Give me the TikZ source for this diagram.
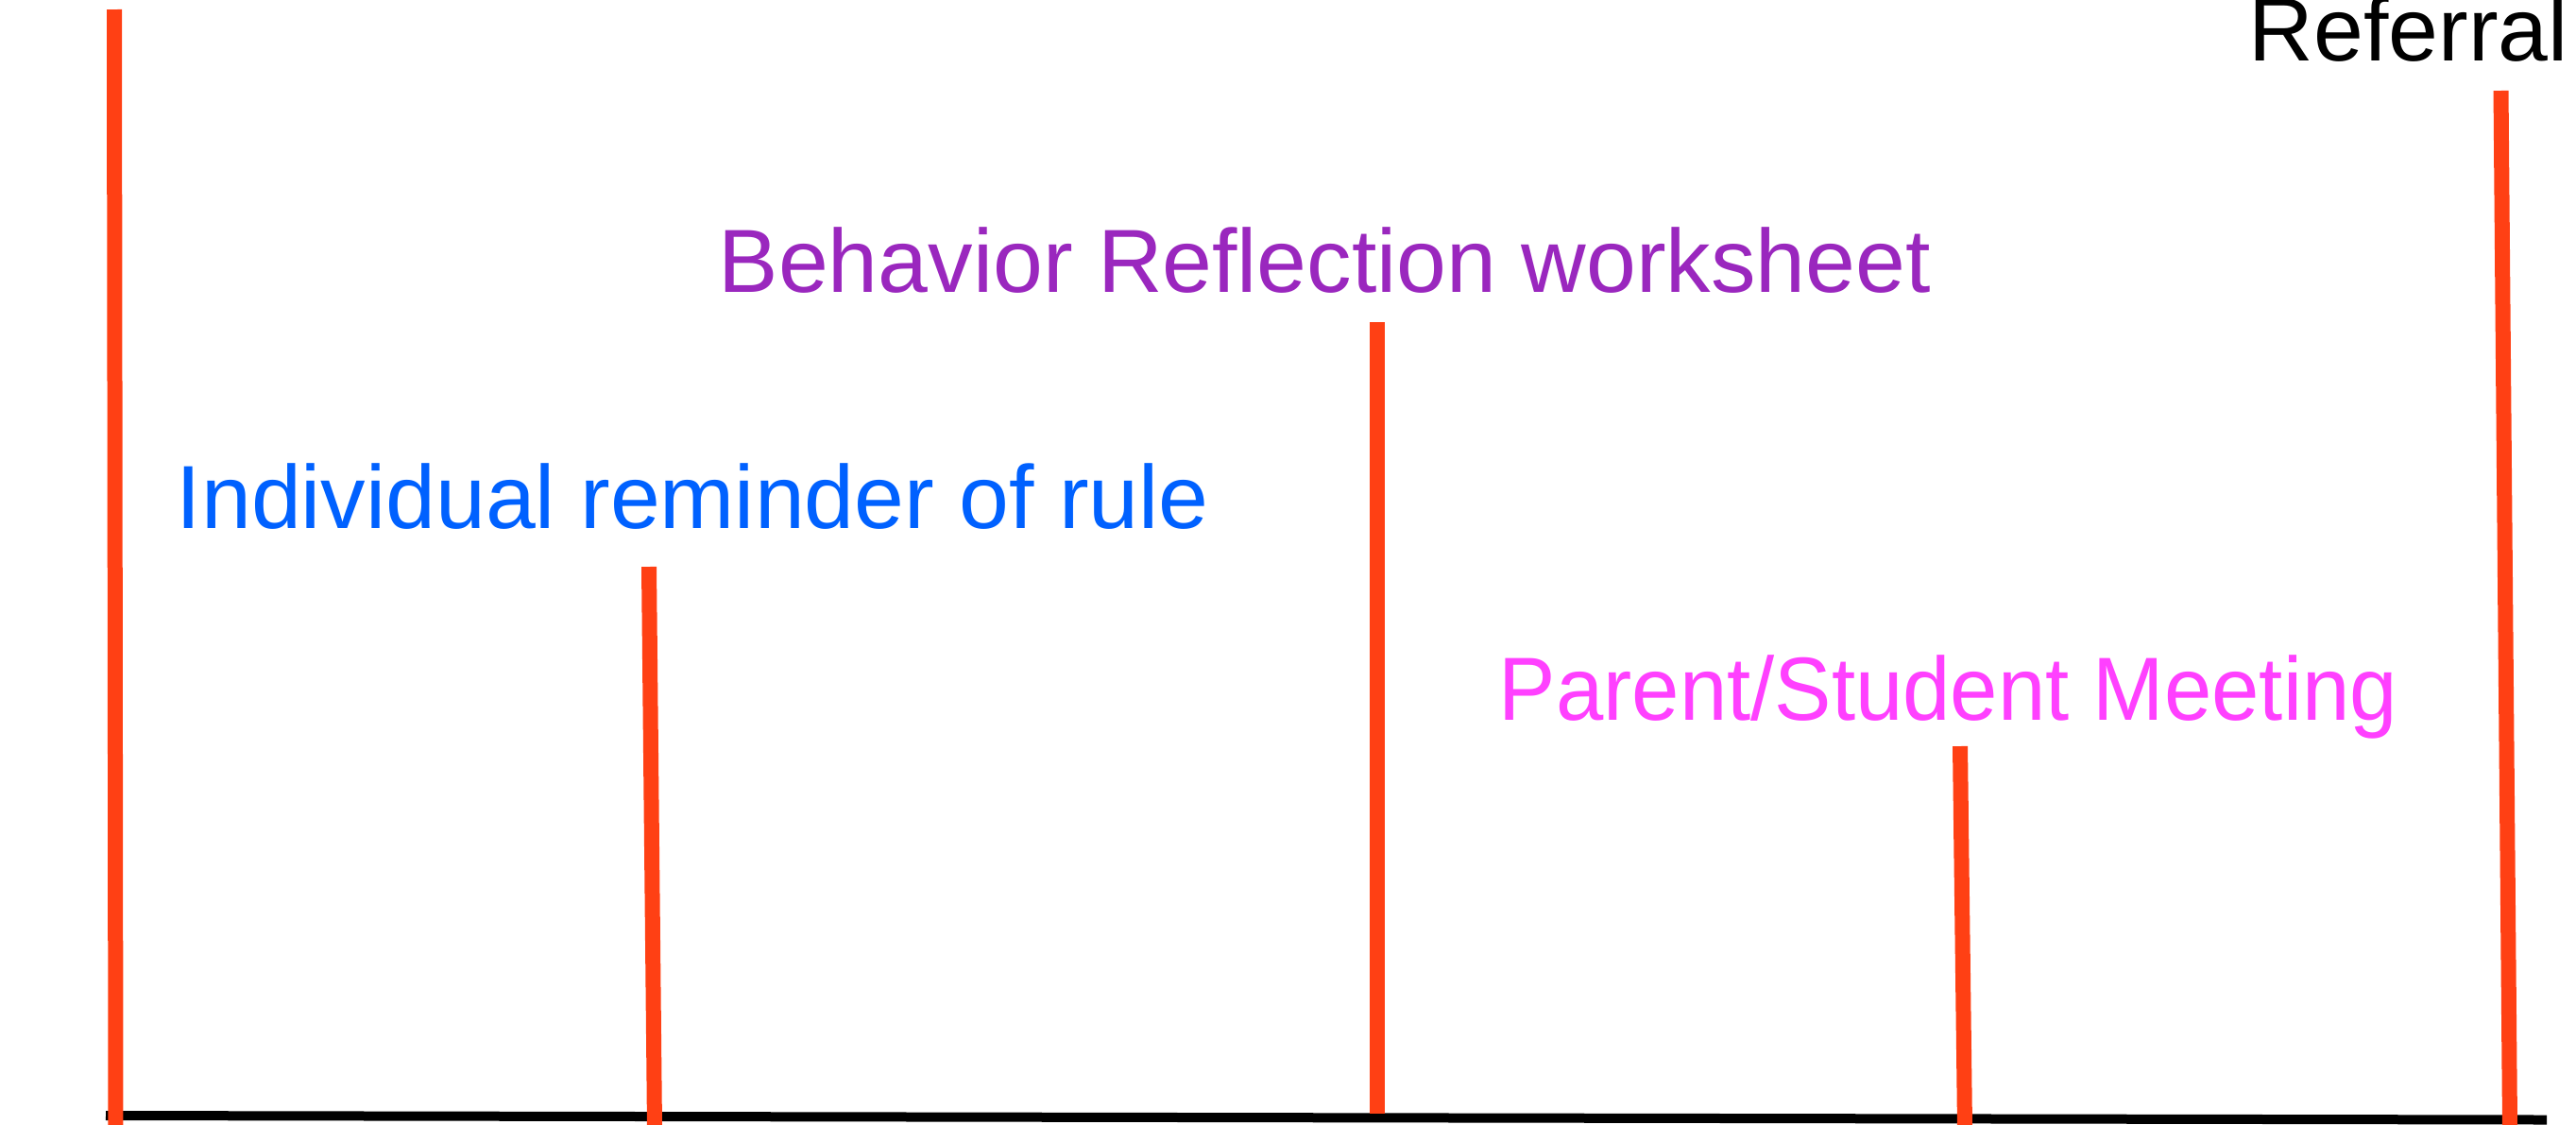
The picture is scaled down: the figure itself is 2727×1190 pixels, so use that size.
\documentclass[tikz,border=0pt]{standalone}
\usepackage{fontspec}
\setmainfont{Liberation Sans}
\definecolor{barorange}{RGB}{255,64,20}
\definecolor{lblblue}{RGB}{0,97,255}
\definecolor{lblpurple}{RGB}{154,39,190}
\definecolor{lblpink}{RGB}{255,64,255}
\begin{document}
\begin{tikzpicture}[x=0.25pt,y=-0.25pt,
  bar/.style={draw=barorange,line width=4pt},
  axisline/.style={draw=black,line width=2.5pt},
  lbl/.style={anchor=base west,inner sep=0pt,font=\fontsize{23.75pt}{28pt}\selectfont}]
\useasboundingbox (0,0) rectangle (2727,1190);
% axis
\coordinate (axL) at (112,1181);
\coordinate (axR) at (2696,1185.5);
\draw[axisline] (axL) -- (axR);
% bars
\coordinate (b1t) at (121,10);     \coordinate (b1b) at (122.5,1195);
\coordinate (b2t) at (687,600);    \coordinate (b2b) at (693,1195);
\coordinate (b3t) at (1458,341);   \coordinate (b3b) at (1458,1179);
\coordinate (b4t) at (2075,790);   \coordinate (b4b) at (2080,1195);
\coordinate (b5t) at (2647.5,96);  \coordinate (b5b) at (2657,1195);
\draw[bar] (b1t) -- (b1b);
\draw[bar] (b2t) -- (b2b);
\draw[bar] (b3t) -- (b3b);
\draw[bar] (b4t) -- (b4b);
\draw[bar] (b5t) -- (b5b);
% labels
\node[lbl,text=lblblue] (l1) at (186,559) {Individual reminder of rule};
\node[lbl,text=lblpurple] (l2) at (760,309) {Behavior Reflection worksheet};
\node[lbl,text=lblpink] (l3) at (1586,762) {\scalebox{0.953}[1]{Parent/Student Meeting}};
\node[lbl,text=black] (l4) at (2380,64) {Referral};
\end{tikzpicture}
\end{document}
